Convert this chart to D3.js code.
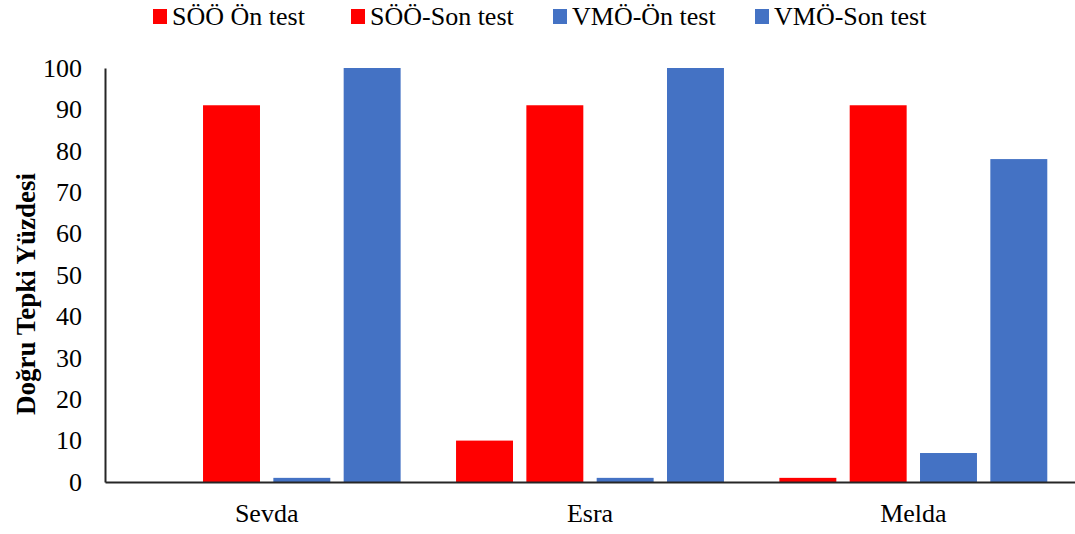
<!DOCTYPE html>
<html>
<head>
<meta charset="utf-8">
<script src="https://cdn.jsdelivr.net/npm/d3@7"></script>
<style>
  html, body { margin: 0; padding: 0; background: #fff; }
  svg { display: block; }
  svg text { font-family: "Liberation Serif", "Times New Roman", Tinos, "DejaVu Serif", "Noto Serif", serif; }
</style>
</head>
<body>
<svg id="chart" width="1075" height="534"></svg>
<script>
const categories = ["Sevda", "Esra", "Melda"];
const seriesNames = ["SÖÖ Ön test", "SÖÖ-Son test", "VMÖ-Ön test", "VMÖ-Son test"];
const seriesColors = ["#FF0000", "#FF0000", "#4472C4", "#4472C4"];
const sooOn = [0, 10, 1];
const sooSon = [91, 91, 91];
const vmoOn = [1, 1, 7];
const vmoSon = [100, 100, 78];
const yTicks = [0, 10, 20, 30, 40, 50, 60, 70, 80, 90, 100];
const yTitle = "Doğru Tepki Yüzdesi";

const seriesValues = [sooOn, sooSon, vmoOn, vmoSon];

const svg = d3.select("#chart");
const margin = { left: 105, right: 0, top: 68, bottom: 52 };
const W = 1075, H = 534;

const x = d3.scaleBand().domain(categories).range([margin.left, W - margin.right]).padding(0);
const bw = x.bandwidth();
const xs = d3.scaleBand().domain(d3.range(seriesNames.length))
  .range([bw * 0.0857, bw * (1 - 0.0857)]).paddingInner(0.19).paddingOuter(0);
const y = d3.scaleLinear().domain([0, 100]).range([H - margin.bottom, margin.top]);

// bars
const rows = [];
categories.forEach((c, ci) => {
  seriesValues.forEach((arr, si) => rows.push({ c, si, v: arr[ci] }));
});
svg.append("g").selectAll("rect").data(rows).enter().append("rect")
  .attr("x", d => x(d.c) + xs(d.si))
  .attr("width", xs.bandwidth())
  .attr("y", d => y(d.v))
  .attr("height", d => y(0) - y(d.v))
  .attr("fill", d => seriesColors[d.si]);

// y axis
const yAxis = d3.axisLeft(y).tickValues(yTicks).tickSize(0).tickPadding(23);
const gy = svg.append("g").attr("transform", `translate(${margin.left},0)`).call(yAxis);
gy.attr("font-family", null);
gy.select(".domain").attr("stroke", "#262626").attr("stroke-width", 2);
gy.selectAll("text").attr("font-size", 26).attr("fill", "#000");

// x axis
const xAxis = d3.axisBottom(x).tickSize(0).tickPadding(22);
const gx = svg.append("g").attr("transform", `translate(0,${y(0)})`).call(xAxis);
gx.attr("font-family", null);
gx.select(".domain").attr("stroke", "#262626").attr("stroke-width", 2);
gx.selectAll("text").attr("font-size", 26).attr("fill", "#000");

// y title
svg.append("text")
  .attr("transform", `translate(35,${(y(0) + y(100)) / 2 + 19}) rotate(-90)`)
  .attr("text-anchor", "middle")
  .attr("font-weight", "bold")
  .attr("font-size", 27)
  .attr("fill", "#000")
  .text(yTitle);

// legend
const legendX = [153, 351, 553, 755];
const lg = svg.append("g");
seriesNames.forEach((n, i) => {
  lg.append("rect").attr("x", legendX[i]).attr("y", 9).attr("width", 14).attr("height", 15)
    .attr("fill", seriesColors[i]);
  lg.append("text").attr("x", legendX[i] + 19).attr("y", 24.5)
    .attr("font-size", 26).attr("fill", "#000").text(n);
});
</script>
</body>
</html>
